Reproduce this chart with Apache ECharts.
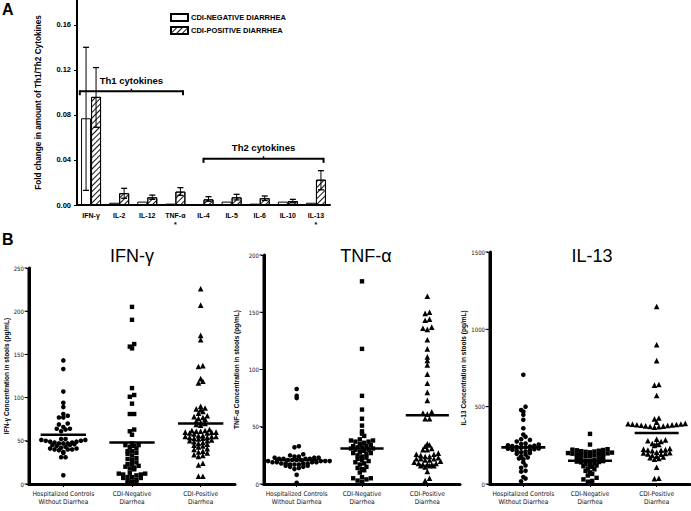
<!DOCTYPE html>
<html><head><meta charset="utf-8">
<script src="https://cdn.jsdelivr.net/npm/echarts@6/dist/echarts.min.js"></script>
<style>html,body{margin:0;padding:0;background:#fff}#c{width:691px;height:511px}</style>
</head><body><div id="c"></div>
<script>
// ---------- Panel A data ----------
const cytokines = ['IFN-γ','IL-2','IL-12','TNF-α','IL-4','IL-5','IL-6','IL-10','IL-13'];
const cytokineStars = ['', '', '', '*', '', '', '', '', '*'];
const negMean = [0.077,0.002,0.003,0.0012,0.0006,0.003,0.0012,0.003,0.002];
const negLow  = [0.013,null,null,null,null,null,null,null,null];
const negHigh = [0.140,null,null,null,null,null,null,null,null];
const posMean = [0.096,0.0105,0.0068,0.0119,0.005,0.0068,0.006,0.0035,0.0225];
const posLow  = [0.069,0.006,0.005,0.0086,0.0033,0.0045,0.004,0.002,0.0135];
const posHigh = [0.122,0.0148,0.0088,0.0154,0.0074,0.0095,0.008,0.005,0.0305];
const seriesNames = ['CDI-NEGATIVE DIARRHEA','CDI-POSITIVE DIARRHEA'];
const bracketRanges = [[0,3,0.101],[4,8,0.041]];
const bracketLabels = ['Th1 cytokines','Th2 cytokines'];
const yTicksA = [0,0.04,0.08,0.12,0.16];

// ---------- Panel B data ----------
const groups = ['Hospitalized Controls\nWithout Diarrhea','CDI-Negative\nDiarrhea','CDI-Positive\nDiarrhea'];
const groupPos = [0.5,1.5,2.5];
const ifnCtrl = [143,133,107,94,89,81,79,77,77,70,69,66,64,64,63,61,52,52,51,51,50,50,49,49,48,48,47,47,47,46,45,45,44,43,42,41,41,40,40,40,39,37,36,31,31,10];
const ifnNeg  = [205,190,162,159,157,111,103,101,93,81,81,63,61,57,47,45,45,44,43,41,38,38,36,35,33,30,29,28,25,23,23,21,20,19,18,17,13,12,12,11,11,10,8,8,7,7,5,4,3,2,1,1];
const ifnPos  = [226,207,172,167,137,136,122,119,117,90,88,87,86,84,82,79,78,77,76,75,73,71,70,69,68,63,62,62,61,61,60,60,60,59,59,58,56,56,55,55,55,54,54,53,53,52,51,50,50,49,48,47,46,45,44,43,41,40,38,37,36,34,33,32,24,22,9,9];
const ifnMid  = [57,48,70];
const tnfCtrl = [83,77,75,33,32,26,25,24,24,23,23,23,22,22,22,22,21,21,21,21,20,20,20,20,20,19,19,19,19,18,18,18,18,17,17,17,16,16,15,15,14,13,8,1];
const tnfNeg  = [177,118,77,65,57,51,46,44,42,39,38,38,37,37,36,35,34,33,33,32,32,31,31,30,30,29,28,27,27,26,25,24,23,22,21,20,19,18,17,15,14,13,12,10,6,5,5,4,3,2,1];
const tnfPos  = [164,150,149,144,143,137,136,135,126,118,111,108,104,96,88,80,73,63,62,61,57,57,35,34,33,31,30,30,27,26,26,25,24,24,23,22,22,22,21,21,20,19,18,18,17,17,17,16,16,16,15,11,5,3];
const tnfMid  = [21,31,60];
const il13Ctrl = [706,500,478,468,447,415,360,320,305,290,285,275,262,258,255,250,248,245,242,240,238,235,230,228,225,222,218,215,210,205,200,195,190,180,172,165,160,140,120,105,85,80,45,35,18];
const il13Neg  = [324,255,225,222,220,218,215,212,210,208,205,203,200,198,196,194,192,190,188,185,182,180,175,170,165,160,155,152,150,148,145,142,140,135,130,125,120,115,110,100,95,85,75,65,55,40,30,20,15];
const il13Pos  = [1148,900,798,643,639,572,427,421,400,392,390,388,386,385,383,382,380,378,376,374,372,370,368,290,285,280,275,262,258,255,250,230,225,222,220,218,215,205,202,200,198,195,192,185,180,175,170,165,160,108,37,35];
const il13Mid  = [237,150,330];
const panelTitles = ['IFN-γ','TNF-α','IL-13'];
const panelYNames = ['IFN-γ Concentration in stools (pg/mL)','TNF-α Concentration in stools (pg/mL)','IL-13 Concentration in stools (pg/mL)'];
const panelMax = [250,200,1500];
const panelInterval = [50,50,500];

// ---------- layout / style ----------
const FONT = "'Liberation Sans', Arial, sans-serif";
const NARROW = "'Liberation Sans Narrow','DejaVu Sans Condensed',sans-serif";
const gridA = {left:77, top:0, width:253, height:205};
const gridsB = [
  {left:29, top:268, width:206, height:216},
  {left:264, top:255, width:196, height:229},
  {left:490, top:252, width:200, height:232}
];
const titlePos = [[132,256],[366,256],[592,256]];
const yNameGap = [19,24,22];
const symbols = ['circle','rect','triangle'];
const symSize = [4.6,4.4,5.6];

// beeswarm: rows of dots centered on group
function swarm(values, pxPerY, bandPx){
  const rowH = 4.2, gap = 4.4;
  const bins = {};
  values.forEach((v,i)=>{ const b=Math.round(v*pxPerY/rowH); (bins[b]=bins[b]||[]).push({v,i}); });
  const out = new Array(values.length);
  Object.keys(bins).forEach(k=>{
    const list = bins[k].sort((a,b)=>a.v-b.v);
    const n = list.length;
    const slots = [];
    for(let j=0;j<n;j++) slots.push(j-(n-1)/2);
    slots.sort((a,b)=>Math.abs(a)-Math.abs(b) || a-b);
    list.forEach((o,j)=>{ out[o.i] = slots[j]*gap/bandPx; });
  });
  return out;
}

const panelData = [[ifnCtrl,ifnNeg,ifnPos],[tnfCtrl,tnfNeg,tnfPos],[il13Ctrl,il13Neg,il13Pos]];
const panelMid = [ifnMid,tnfMid,il13Mid];

const grid = [Object.assign({}, gridA)].concat(gridsB.map(g=>Object.assign({},g)));
grid.forEach(g=>{ g.containLabel=false; g.outerBoundsMode='none'; });

function groupLabel(v){
  const k = groupPos.findIndex(p=>Math.abs(p-v)<1e-6);
  return k>=0 ? groups[k] : '';
}

const xAxis = [{
  gridIndex:0, type:'category', data:cytokines.map((c,i)=>cytokineStars[i]? c+'\n'+cytokineStars[i] : c),
  axisLine:{lineStyle:{color:'#000',width:2}}, axisTick:{show:false},
  axisLabel:{color:'#000',fontSize:7,fontWeight:'bold',fontFamily:FONT,margin:6,lineHeight:9,interval:0,verticalAlign:'top'}
}];
const yAxis = [{
  gridIndex:0, type:'value', min:0, max:0.182, interval:0.04,
  axisLine:{show:true,lineStyle:{color:'#000',width:2}},
  axisTick:{show:true,length:3,lineStyle:{color:'#000',width:1}},
  splitLine:{show:false},
  axisLabel:{color:'#000',fontSize:7.5,fontWeight:'bold',fontFamily:FONT,margin:6,showMaxLabel:false,
    formatter:v=> yTicksA.some(t=>Math.abs(t-v)<1e-9) ? v.toFixed(2) : ''},
  name:'Fold change in amount of Th1/Th2 Cytokines', nameLocation:'middle', nameGap:35,
  nameTextStyle:{color:'#000',fontSize:8.2,fontWeight:'bold',fontFamily:FONT}
}];
gridsB.forEach((g,p)=>{
  xAxis.push({gridIndex:p+1, type:'value', min:0, max:3, interval:0.5,
    splitLine:{show:false},
    axisLine:{show:true,lineStyle:{color:'#000',width:3}},
    axisTick:{show:true,customValues:groupPos,length:3,lineStyle:{color:'#000',width:1}},
    axisLabel:{customValues:groupPos,formatter:groupLabel,color:'#111',fontSize:6.5,fontFamily:NARROW,margin:6,lineHeight:8}});
  yAxis.push({gridIndex:p+1, type:'value', min:0, max:panelMax[p], interval:panelInterval[p], position:'left',
    axisLine:{show:true,onZero:false,lineStyle:{color:'#000',width:3}},
    axisTick:{show:true,length:3,lineStyle:{color:'#000',width:1}},
    splitLine:{show:false},
    axisLabel:{color:'#111',fontSize:6,fontFamily:NARROW,margin:5,formatter:v=>String(v)},
    name:panelYNames[p], nameLocation:'middle', nameGap:yNameGap[p],
    nameTextStyle:{color:'#000',fontSize:6.5,fontWeight:'bold',fontFamily:FONT}});
});

const hatch = {symbol:'rect', symbolSize:1, dashArrayX:[1,0], dashArrayY:[1,2.2], rotation:-Math.PI/4, color:'#111', backgroundColor:'#fff'};

function errRender(sign){
  return function(params, api){
    const i = api.value(0);
    const lo = api.coord([i, api.value(1)]);
    const hi = api.coord([i, api.value(2)]);
    const x = lo[0] + sign*5;
    const cap = 3;
    return {type:'group', children:[
      {type:'line', shape:{x1:x,y1:lo[1],x2:x,y2:hi[1]}, style:{stroke:'#000',lineWidth:1}},
      {type:'line', shape:{x1:x-cap,y1:hi[1],x2:x+cap,y2:hi[1]}, style:{stroke:'#000',lineWidth:1.3}},
      {type:'line', shape:{x1:x-cap,y1:lo[1],x2:x+cap,y2:lo[1]}, style:{stroke:'#000',lineWidth:1.3}}
    ]};
  };
}

const series = [
  {name:seriesNames[0], type:'bar', xAxisIndex:0, yAxisIndex:0, data:negMean, barWidth:10, barGap:'0%',
   itemStyle:{color:'#fff', borderColor:'#000', borderWidth:1}, z:2},
  {name:seriesNames[1], type:'bar', xAxisIndex:0, yAxisIndex:0, data:posMean, barWidth:10, barGap:'0%',
   itemStyle:{color:'#fff', borderColor:'#000', borderWidth:1, decal:hatch}, z:2},
  {type:'custom', xAxisIndex:0, yAxisIndex:0, z:5, silent:true,
   data:negMean.map((m,i)=>[i,negLow[i],negHigh[i]]).filter(r=>r[1]!==null),
   encode:{x:0,y:[1,2]}, renderItem:errRender(-1)},
  {type:'custom', xAxisIndex:0, yAxisIndex:0, z:5, silent:true,
   data:posMean.map((m,i)=>[i,posLow[i],posHigh[i]]),
   encode:{x:0,y:[1,2]}, renderItem:errRender(1)},
  {type:'custom', xAxisIndex:0, yAxisIndex:0, z:6, silent:true,
   data:bracketRanges, encode:{x:[0,1],y:2},
   renderItem:function(params, api){
     const idx = params.dataIndex;
     const s = api.coord([api.value(0), api.value(2)]);
     const e = api.coord([api.value(1), api.value(2)]);
     const bw = api.size([1,0])[0];
     const pads = [[-0.4,0.27],[0,0.27]][idx];
     const x1 = s[0]+pads[0]*bw, x2 = e[0]+pads[1]*bw, y = s[1], mid=(x1+x2)/2;
     const st = {stroke:'#000', lineWidth:2};
     return {type:'group', children:[
       {type:'line', shape:{x1:x1,y1:y,x2:x2,y2:y}, style:st},
       {type:'line', shape:{x1:x1,y1:y-1,x2:x1,y2:y+4}, style:st},
       {type:'line', shape:{x1:x2,y1:y-1,x2:x2,y2:y+4}, style:st},
       {type:'line', shape:{x1:mid,y1:y,x2:mid,y2:y-2.5}, style:{stroke:'#000',lineWidth:1.5}},
       {type:'text', x:mid, y:y-11, style:{text:bracketLabels[idx], textAlign:'center', textVerticalAlign:'middle',
         font:'bold 9.5px '+FONT, fill:'#000'}}
     ]};
   }}
];

gridsB.forEach((g,p)=>{
  const pxPerY = g.height/panelMax[p];
  const bandPx = g.width/3;
  panelData[p].forEach((vals,k)=>{
    const offs = swarm(vals, pxPerY, bandPx);
    series.push({type:'scatter', xAxisIndex:p+1, yAxisIndex:p+1, symbol:symbols[k], symbolSize:symSize[k],
      itemStyle:{color:'#000', opacity:1}, silent:true, z:3,
      data: vals.map((v,i)=>[groupPos[k]+offs[i], v])});
  });
  series.push({type:'custom', xAxisIndex:p+1, yAxisIndex:p+1, z:4, silent:true,
    data: panelMid[p].map((m,k)=>[groupPos[k],m]), encode:{x:0,y:1},
    renderItem:function(params, api){
      const c = api.coord([api.value(0), api.value(1)]);
      const bw = api.size([1,0])[0];
      const hw = bw*0.33;
      return {type:'line', shape:{x1:c[0]-hw,y1:c[1],x2:c[0]+hw,y2:c[1]}, style:{stroke:'#000',lineWidth:2.6}};
    }});
  // vertical value-axis line with its ticks, drawn through the panel's scales
  const step = panelInterval[p];
  series.push({type:'custom', xAxisIndex:p+1, yAxisIndex:p+1, z:6, silent:true, clip:false,
    data:[[0,0,panelMax[p]]], encode:{x:0,y:[1,2]},
    renderItem:function(params, api){
      const a = api.coord([0, api.value(1)]);
      const b = api.coord([0, api.value(2)]);
      const kids = [{type:'line', shape:{x1:a[0],y1:a[1]+1.5,x2:b[0],y2:b[1]}, style:{stroke:'#000',lineWidth:3}}];
      for (let v = api.value(1); v <= api.value(2)+1e-9; v += step){
        const c = api.coord([0, v]);
        kids.push({type:'line', shape:{x1:c[0]-4.5,y1:c[1],x2:c[0]-1.5,y2:c[1]}, style:{stroke:'#000',lineWidth:1}});
      }
      return {type:'group', children:kids};
    }});
});

const graphic = [
  {type:'text', left:2, top:1, style:{text:'A', font:'bold 16px '+FONT, fill:'#000'}},
  {type:'text', left:2, top:231, style:{text:'B', font:'bold 16px '+FONT, fill:'#000'}}
];
panelTitles.forEach((t,p)=>{
  graphic.push({type:'text', x:titlePos[p][0], y:titlePos[p][1],
    style:{text:t, textAlign:'center', textVerticalAlign:'middle', font:'18px '+FONT, fill:'#000'}});
});

const chart = echarts.init(document.getElementById('c'), null, {renderer:'svg'});
chart.setOption({
  animation:false,
  backgroundColor:'#fff',
  grid:grid, xAxis:xAxis, yAxis:yAxis, series:series, graphic:graphic,
  legend:{data:seriesNames, orient:'vertical', left:165, top:8, itemWidth:17, itemHeight:7, itemGap:4, icon:'rect',
    textStyle:{color:'#000',fontSize:7.5,fontWeight:'bold',fontFamily:FONT, padding:[0,0,0,-2]}, selectedMode:false}
});
</script></body></html>
